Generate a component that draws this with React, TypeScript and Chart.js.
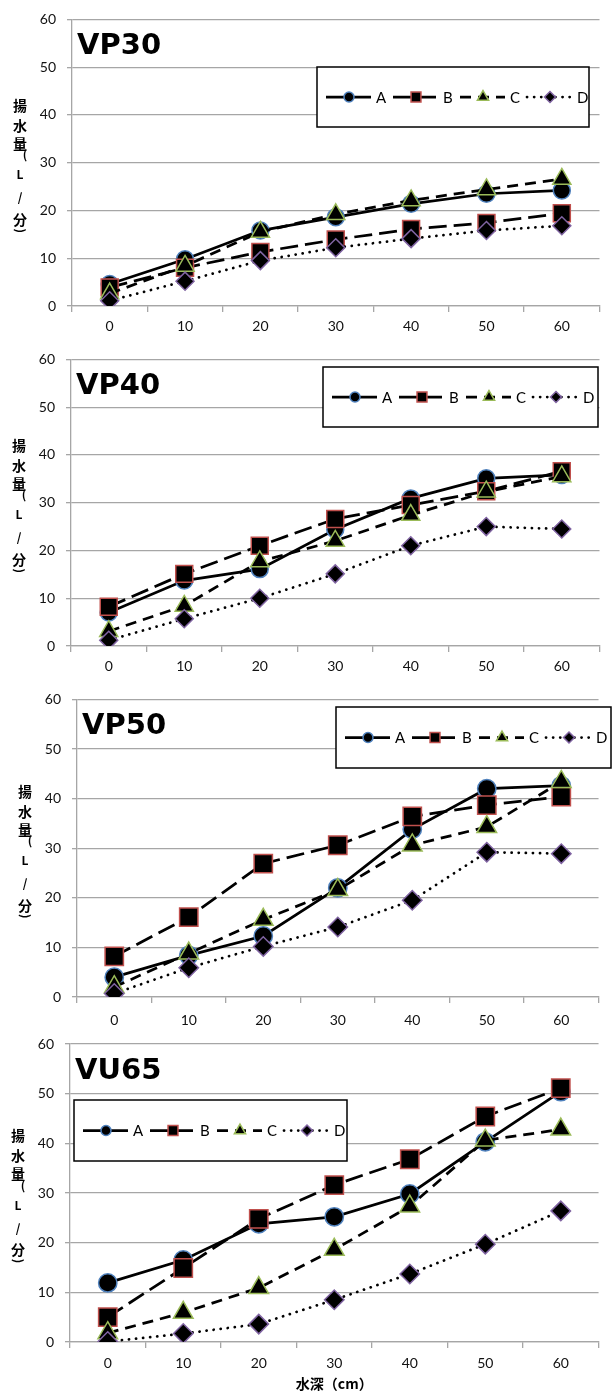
import React, { useEffect, useRef } from 'react';
import { Chart, registerables } from 'chart.js';
import { drawPoint } from 'chart.js/helpers';

Chart.register(...registerables);

// ---------- data ----------
const depths = ['0', '10', '20', '30', '40', '50', '60'];
const seriesNames = ['A', 'B', 'C', 'D'];
const yMin = 0;
const yMax = 60;
const yStep = 10;

const vp30A = [4.6, 9.8, 15.8, 18.6, 21.4, 23.5, 24.2];
const vp30B = [3.9, 8.0, 11.3, 13.9, 16.1, 17.4, 19.4];
const vp30C = [2.6, 8.4, 15.5, 19.2, 22.1, 24.4, 26.6];
const vp30D = [1.1, 5.2, 9.5, 12.2, 14.1, 15.8, 16.8];

const vp40A = [7.0, 13.7, 16.1, 24.4, 30.9, 35.1, 35.8];
const vp40B = [8.2, 15.1, 21.0, 26.6, 29.5, 32.4, 36.6];
const vp40C = [3.1, 8.4, 17.7, 22.0, 27.4, 32.3, 35.5];
const vp40D = [1.2, 5.7, 10.0, 15.1, 21.0, 25.0, 24.5];

const vp50A = [4.0, 8.4, 12.3, 22.0, 33.8, 42.0, 42.6];
const vp50B = [8.2, 16.1, 26.9, 30.6, 36.4, 38.7, 40.4];
const vp50C = [2.0, 8.8, 15.6, 21.6, 30.6, 34.3, 43.4];
const vp50D = [0.7, 5.9, 10.2, 14.1, 19.5, 29.2, 28.9];

const vu65A = [11.9, 16.5, 23.8, 25.2, 29.8, 40.3, 50.4];
const vu65B = [5.0, 14.9, 24.8, 31.6, 36.8, 45.4, 51.1];
const vu65C = [1.8, 5.9, 10.9, 18.6, 27.3, 40.6, 42.8];
const vu65D = [0.1, 1.7, 3.6, 8.5, 13.7, 19.7, 26.4];

const chartTitles = ['VP30', 'VP40', 'VP50', 'VU65'];
const yAxisTitle = '揚水量(L/分)';
const xAxisTitle = '水深（cm）';

// ---------- styles ----------
const GRID = '#a6a6a6';
const TICK_FONT = { family: 'Lato, "Noto Sans", sans-serif', size: 14 };

const seriesStyles = [
  { dash: [], cap: 'butt', point: 'circle', r: 8.5, lr: 5, pb: '#4F81BD' },
  { dash: [18, 7], cap: 'butt', point: 'rect', r: 12, lr: 7, pb: '#C0504D' },
  { dash: [11, 7], cap: 'butt', point: 'triangle', r: 10.5, lr: 6.5, pb: '#9BBB59' },
  { dash: [0.1, 7], cap: 'round', point: 'rectRot', r: 9, lr: 5.5, pb: '#8064A2' },
];

function buildDatasets(values: number[][], scale: number) {
  return values.map((v, i) => {
    const s = seriesStyles[i];
    return {
      label: seriesNames[i],
      data: v,
      borderColor: '#000',
      borderWidth: 2.75,
      borderDash: s.dash,
      borderCapStyle: s.cap,
      fill: false,
      tension: 0,
      pointStyle: s.point,
      pointRadius: s.r * scale,
      pointHoverRadius: s.r * scale,
      pointBackgroundColor: '#000',
      pointBorderColor: s.pb,
      pointBorderWidth: 1.5,
      legendRadius: s.lr,
      order: 3 - i,
    };
  });
}

const boxLegendPlugin = {
  id: 'boxLegend',
  afterDraw(chart: any, _args: any, opts: any) {
    const b = opts && opts.box;
    if (!b) return;
    const ctx = chart.ctx;
    ctx.save();
    ctx.fillStyle = '#fff';
    ctx.fillRect(b.x, b.y, b.w, b.h);
    ctx.strokeStyle = '#000';
    ctx.lineWidth = 1.5;
    ctx.strokeRect(b.x, b.y, b.w, b.h);
    const cy = b.y + b.h / 2;
    chart.data.datasets.forEach((ds: any, i: number) => {
      const x0 = b.x + 9 + i * 67;
      ctx.save();
      ctx.strokeStyle = ds.borderColor;
      ctx.lineWidth = ds.borderWidth;
      ctx.setLineDash(ds.borderDash || []);
      ctx.lineCap = ds.borderCapStyle || 'butt';
      ctx.beginPath();
      ctx.moveTo(x0, cy);
      ctx.lineTo(x0 + 45, cy);
      ctx.stroke();
      ctx.restore();
      ctx.save();
      ctx.setLineDash([]);
      ctx.fillStyle = ds.pointBackgroundColor;
      ctx.strokeStyle = ds.pointBorderColor;
      ctx.lineWidth = 1.5;
      drawPoint(ctx, { pointStyle: ds.pointStyle, radius: ds.legendRadius, rotation: 0, borderWidth: 1.5 } as any, x0 + 23, cy);
      ctx.restore();
      ctx.fillStyle = '#000';
      ctx.font = '15px Lato, "Noto Sans", sans-serif';
      ctx.textBaseline = 'middle';
      ctx.textAlign = 'left';
      ctx.fillText(ds.label, x0 + 50, cy + 1);
    });
    ctx.restore();
  },
};

const decorPlugin = {
  id: 'decor',
  afterDraw(chart: any, _args: any, opts: any) {
    const ctx = chart.ctx;
    const a = chart.chartArea;
    ctx.save();
    // chart title inside plot
    ctx.fillStyle = '#000';
    ctx.font = 'bold 29px "DejaVu Sans", sans-serif';
    ctx.textAlign = 'left';
    ctx.textBaseline = 'alphabetic';
    ctx.fillText(opts.title, a.left + 5, a.top + 35);
    // stacked vertical y-axis title
    const cx = a.left - 52;
    const cy = (a.top + a.bottom) / 2;
    const chars = Array.from(yAxisTitle);
    const offs = [-57, -37, -19, -8, 12, 35, 57, 68];
    ctx.textAlign = 'center';
    ctx.textBaseline = 'middle';
    chars.forEach((ch, i) => {
      const oy = offs[i];
      if (ch === '(' || ch === ')') {
        ctx.save();
        ctx.font = 'bold 12px "Noto Sans CJK JP", sans-serif';
        if (ch === '(') {
          ctx.fillText(ch, cx + 5, cy + oy);
        } else {
          ctx.translate(cx + 1, cy + oy);
          ctx.rotate(Math.PI / 2);
          ctx.fillText(ch, 0, 0);
        }
        ctx.restore();
      } else if (ch === 'L' || ch === '/') {
        ctx.font = 'bold 12px "Noto Sans CJK JP", sans-serif';
        ctx.fillText(ch, cx, cy + oy);
      } else {
        ctx.font = 'bold 14px "Noto Sans CJK JP", sans-serif';
        ctx.fillText(ch, cx, cy + oy);
      }
    });
    ctx.restore();
  },
};

type Spec = {
  title: string;
  values: number[][];
  top: number;
  height: number;
  left: number;
  padR: number;
  padTop: number;
  xH: number;
  xPad: number;
  box: { x: number; y: number; w: number; h: number };
  scale: number;
  xTitle: boolean;
};

const specs: Spec[] = [
  { title: chartTitles[0], values: [vp30A, vp30B, vp30C, vp30D], top: 0, height: 340, left: 72, padR: 9, padTop: 14, xH: 34, xPad: 6, box: { x: 317, y: 67, w: 272, h: 60 }, scale: 1, xTitle: false },
  { title: chartTitles[1], values: [vp40A, vp40B, vp40C, vp40D], top: 340, height: 340, left: 71, padR: 6, padTop: 14, xH: 34, xPad: 6, box: { x: 323, y: 27, w: 275, h: 60 }, scale: 1, xTitle: false },
  { title: chartTitles[2], values: [vp50A, vp50B, vp50C, vp50D], top: 680, height: 345, left: 77, padR: 8, padTop: 19, xH: 28, xPad: 9, box: { x: 336, y: 27, w: 275, h: 61 }, scale: 1.08, xTitle: false },
  { title: chartTitles[3], values: [vu65A, vu65B, vu65C, vu65D], top: 1020, height: 372, left: 70, padR: 0, padTop: 24, xH: 50, xPad: 7, box: { x: 74, y: 80, w: 273, h: 61 }, scale: 1.08, xTitle: true },
];

function LineChart({ spec }: { spec: Spec }) {
  const ref = useRef<HTMLCanvasElement | null>(null);
  useEffect(() => {
    if (!ref.current) return;
    const chart = new Chart(ref.current, {
      type: 'line',
      data: { labels: depths, datasets: buildDatasets(spec.values, spec.scale) as any },
      options: {
        responsive: false,
        animation: false,
        events: [],
        layout: { padding: { left: 0, right: spec.padR, top: spec.padTop, bottom: 0 } },
        plugins: {
          legend: { display: false },
          tooltip: { enabled: false },
          boxLegend: { box: spec.box },
          decor: { title: spec.title },
        } as any,
        scales: {
          x: {
            type: 'category',
            offset: true,
            grid: { display: true, drawOnChartArea: false, drawTicks: true, tickLength: 6, color: GRID, lineWidth: 1.3, offset: true },
            border: { display: true, color: GRID, width: 1.3 },
            ticks: { font: TICK_FONT, color: '#111', padding: spec.xPad, maxRotation: 0, autoSkip: false },
            title: {
              display: spec.xTitle,
              text: xAxisTitle,
              color: '#000',
              font: { family: '"Noto Sans CJK JP", sans-serif', size: 14, weight: 'bold' },
              padding: 0,
            },
            afterFit: (s: any) => { s.height = spec.xH; },
          },
          y: {
            min: yMin,
            max: yMax,
            ticks: { stepSize: yStep, font: TICK_FONT, color: '#111', padding: 11 },
            grid: { color: GRID, lineWidth: 1.3, tickLength: 5 },
            border: { display: true, color: GRID, width: 1.3 },
            afterFit: (s: any) => { s.width = spec.left; },
          },
        },
      } as any,
      plugins: [boxLegendPlugin, decorPlugin],
    });
    return () => chart.destroy();
  }, [spec]);
  return (
    <canvas
      ref={ref}
      width={613}
      height={spec.height}
      style={{ position: 'absolute', left: 0, top: spec.top, width: 613, height: spec.height, display: 'block' }}
    />
  );
}

export default function App() {
  return (
    <div style={{ position: 'absolute', left: 0, top: 0, width: 613, height: 1392, background: '#fff' }}>
      {specs.map((s) => (
        <LineChart key={s.title} spec={s} />
      ))}
    </div>
  );
}
